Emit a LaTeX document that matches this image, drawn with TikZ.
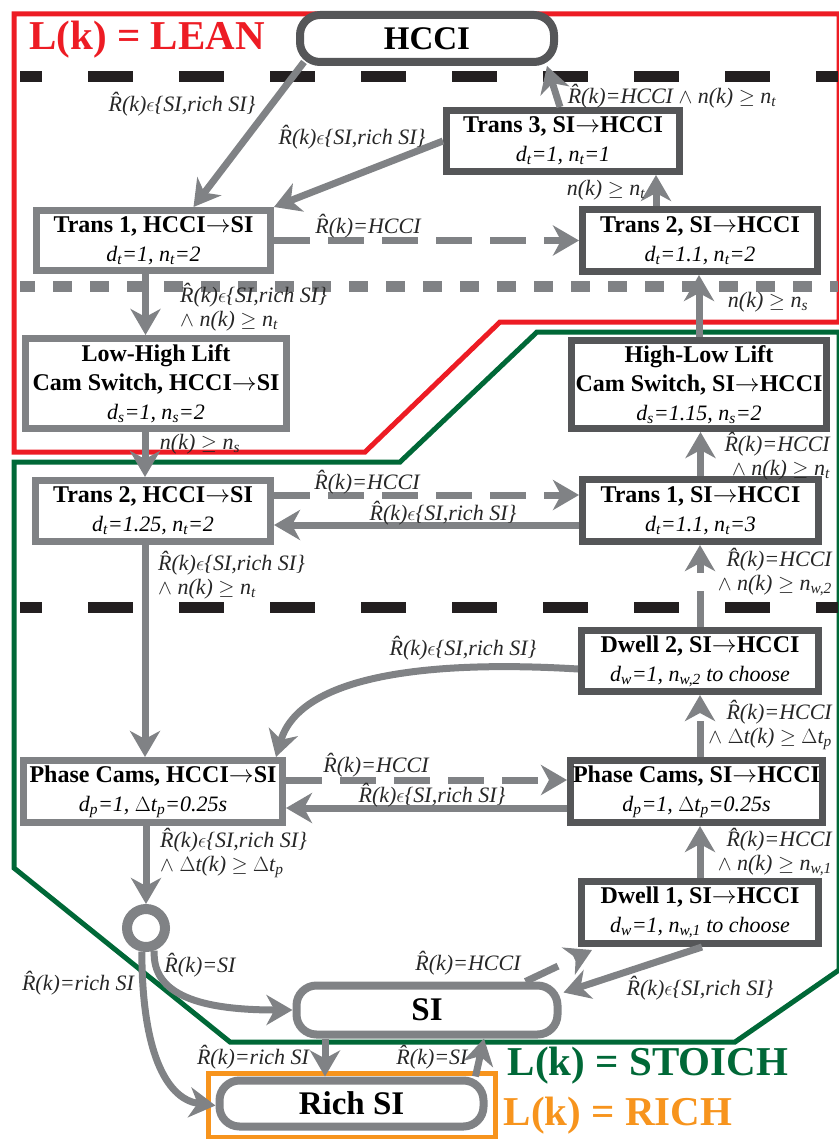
\documentclass[tikz,border=0pt]{standalone}
\usepackage{fontspec}
\setmainfont{Liberation Serif}
\usepackage{amsmath}
\usepackage{amssymb}
\usepackage{tikz}
\usepackage{xcolor}
\usetikzlibrary{arrows.meta,positioning}

\definecolor{leanred}{RGB}{237,28,36}
\definecolor{stoichgreen}{RGB}{0,104,55}
\definecolor{richorange}{RGB}{247,148,29}
\definecolor{lightgrey}{RGB}{128,130,133}
\definecolor{darkgrey}{RGB}{85,86,88}
\definecolor{sepblack}{RGB}{35,31,32}

\newcommand{\Rk}{\^{R}(k)}
\newcommand{\inrich}{$\epsilon$\{SI,rich SI\}}
\newcommand{\nxt}[1]{{\fontsize{22}{29}\selectfont\itshape #1}}

\begin{document}
\begin{tikzpicture}[x=1pt,y=-1pt,
  lbox/.style={draw=lightgrey, line width=7pt, fill=white, align=center, inner sep=1pt, font=\fontsize{24}{29}\selectfont},
  dbox/.style={lbox, draw=darkgrey},
  modebox/.style={draw=lightgrey, line width=8pt, fill=white, rounded corners=20pt, font=\fontsize{33}{36}\selectfont\bfseries},
  conn/.style={draw=lightgrey, line width=7pt, -{Stealth[length=26pt,width=30pt,inset=8pt]}},
  dconn/.style={conn, dash pattern=on 36pt off 18pt},
  lbl/.style={font=\fontsize{22}{24}\selectfont\itshape, inner sep=0pt, text=black!85},
  region/.style={line width=5pt},
  sep/.style={line width=11pt},
  regiontitle/.style={font=\fontsize{41}{44}\selectfont\bfseries, inner sep=0pt}]
\useasboundingbox (0,0) rectangle (838,1139);

\draw[region, leanred] (14,14) -- (839,14) -- (839,322) -- (500,322) -- (365,452) -- (14,452) -- cycle;
\draw[region, stoichgreen] (14,462) -- (400,462) -- (537,332) -- (839,332) -- (839,970) -- (735,1042) -- (230,1042) -- (14,868) -- cycle;
\draw[region, richorange] (208,1073) rectangle (495,1137);

\draw[sep, sepblack, dash pattern=on 45pt off 46pt, dash phase=23pt] (20,77) -- (838,77);
\draw[sep, lightgrey, dash pattern=on 19pt off 18pt, dash phase=4pt] (20,287) -- (838,287);
\draw[sep, sepblack, dash pattern=on 45pt off 46pt, dash phase=23pt] (20,607) -- (838,607);

\node[regiontitle, text=leanred] (leantitle) at (147,40) {L(k) = LEAN};
\node[regiontitle, text=stoichgreen] (stoichtitle) at (648,1066) {L(k) = STOICH};
\node[regiontitle, text=richorange] (richtitle) at (618,1116) {L(k) = RICH};

\node[modebox, draw=darkgrey, minimum width=254pt, minimum height=47pt] (hcci) at (427,38.5) {HCCI};
\node[modebox, minimum width=261pt, minimum height=49pt] (si) at (427,1010) {SI};
\node[modebox, minimum width=264pt, minimum height=46pt] (rich) at (351.5,1103.5) {Rich SI};
\node[circle, draw=lightgrey, line width=10pt, minimum size=38pt, inner sep=0pt, fill=white] (junction) at (146,928) {};

\node[dbox, minimum width=233pt, minimum height=61pt] (t3sh) at (563,141) {\textbf{Trans 3, SI$\rightarrow$HCCI}\\\nxt{d\textsubscript{t}=1, n\textsubscript{t}=1}};
\node[lbox, minimum width=234pt, minimum height=60pt] (t1hs) at (153.5,240.5) {\textbf{Trans 1, HCCI$\rightarrow$SI}\\\nxt{d\textsubscript{t}=1, n\textsubscript{t}=2}};
\node[dbox, minimum width=235pt, minimum height=62pt] (t2sh) at (700,240.5) {\textbf{Trans 2, SI$\rightarrow$HCCI}\\\nxt{d\textsubscript{t}=1.1, n\textsubscript{t}=2}};
\node[lbox, minimum width=261pt, minimum height=90pt] (lh) at (156,383.5) {\textbf{Low-High Lift}\\\textbf{Cam Switch, HCCI$\rightarrow$SI}\\\nxt{d\textsubscript{s}=1, n\textsubscript{s}=2}};
\node[dbox, minimum width=255pt, minimum height=88pt] (hl) at (699,384.5) {\textbf{High-Low Lift}\\\textbf{Cam Switch, SI$\rightarrow$HCCI}\\\nxt{d\textsubscript{s}=1.15, n\textsubscript{s}=2}};
\node[lbox, minimum width=235pt, minimum height=61pt] (t2hs) at (153,511) {\textbf{Trans 2, HCCI$\rightarrow$SI}\\\nxt{d\textsubscript{t}=1.25, n\textsubscript{t}=2}};
\node[dbox, minimum width=236pt, minimum height=62pt] (t1sh) at (700.5,510.5) {\textbf{Trans 1, SI$\rightarrow$HCCI}\\\nxt{d\textsubscript{t}=1.1, n\textsubscript{t}=3}};
\node[dbox, minimum width=237pt, minimum height=61pt] (dw2) at (700,661) {\textbf{Dwell 2, SI$\rightarrow$HCCI}\\\nxt{d\textsubscript{w}=1, n\textsubscript{w,2} to choose}};
\node[lbox, minimum width=259pt, minimum height=62pt] (pchs) at (153,791.5) {\textbf{Phase Cams, HCCI$\rightarrow$SI}\\\nxt{d\textsubscript{p}=1, $\Delta$t\textsubscript{p}=0.25s}};
\node[dbox, minimum width=252pt, minimum height=62pt] (pcsh) at (696.5,791.5) {\textbf{Phase Cams, SI$\rightarrow$HCCI}\\\nxt{d\textsubscript{p}=1, $\Delta$t\textsubscript{p}=0.25s}};
\node[dbox, minimum width=237pt, minimum height=62pt] (dw1) at (700,912.5) {\textbf{Dwell 1, SI$\rightarrow$HCCI}\\\nxt{d\textsubscript{w}=1, n\textsubscript{w,1} to choose}};

\draw[conn] ([xshift=8pt,yshift=4pt]hcci.south west) -- ([xshift=40pt]t1hs.north);
\draw[conn] (t3sh.west) -- (t1hs.north east);
\draw[dconn] (t1hs.east) -- (t2sh.west);
\draw[conn] ([xshift=-44pt]t2sh.north) -- ([xshift=93pt]t3sh.south);
\draw[conn] ([xshift=-3pt]t3sh.north) -- ([xshift=120pt]hcci.south);
\draw[conn] ([xshift=-8pt]t1hs.south) -- ([xshift=-8pt]t1hs.south |- lh.north);
\draw[conn] (hl.north) -- (hl.north |- t2sh.south);
\draw[conn] ([xshift=-11pt]lh.south) -- ([xshift=-11pt]lh.south |- t2hs.north);
\draw[dconn] ([yshift=16pt]t2hs.east) -- ([yshift=16pt]t2hs.east -| t1sh.west);
\draw[conn] ([yshift=-14pt]t2hs.east -| t1sh.west) -- ([yshift=-14pt]t2hs.east);
\draw[conn] (t1sh.north) -- (t1sh.north |- hl.south);
\draw[conn] ([xshift=-8pt]t2hs.south) -- ([xshift=-8pt]t2hs.south |- pchs.north);
\draw[dconn] (dw2.north) -- (dw2.north |- t1sh.south);
\draw[conn] ([yshift=-8pt]dw2.west) .. controls (430,660) and (300,675) .. ([xshift=-10pt]pchs.north east);
\draw[dconn] ([xshift=3.5pt]pcsh.north) -- ([xshift=3.5pt]pcsh.north |- dw2.south);
\draw[dconn] ([yshift=11.5pt]pchs.east) -- ([yshift=11.5pt]pchs.east -| pcsh.west);
\draw[conn] ([yshift=-16.5pt]pchs.east -| pcsh.west) -- ([yshift=-16.5pt]pchs.east);
\draw[dconn] (dw1.north) -- ([xshift=3.5pt]pcsh.south);
\draw[conn] ([xshift=-7pt]pchs.south) -- (junction.north);
\draw[conn] (junction.-70) .. controls (152,995) and (200,1010) .. (si.west);
\draw[conn] (junction.-100) .. controls (142,1060) and (170,1100) .. ([yshift=-2pt]rich.west);
\draw[dconn] ([xshift=-36pt]si.north east) -- ([xshift=14pt,yshift=-3pt]dw1.south west);
\draw[conn] ([xshift=2pt]dw1.south) -- ([xshift=2pt,yshift=-11pt]si.north east);
\draw[conn] ([xshift=-102pt]si.south) -- ([xshift=-102pt]si.south |- rich.north);
\draw[conn] ([xshift=-12pt]rich.north east) -- ([xshift=57pt]si.south);

\node[lbl] (lhccit1) at (182,104) {\Rk\inrich};
\node[lbl] (lt3t1) at (352,137) {\Rk\inrich};
\node[lbl] (lt1t2) at (368,226) {\Rk=HCCI};
\node[lbl] (lt2t3) at (606,190) {n(k) $\geq$ n\textsubscript{t}};
\node[lbl] (lt3hcci) at (672,96) {\Rk=HCCI $\wedge$ n(k) $\geq$ n\textsubscript{t}};
\node[lbl, anchor=west, align=left] (lt1lh) at (180,307) {\Rk\inrich\\$\wedge$ n(k) $\geq$ n\textsubscript{t}};
\node[lbl] (lhlt2) at (768,302) {n(k) $\geq$ n\textsubscript{s}};
\node[lbl] (llht2) at (200,444) {n(k) $\geq$ n\textsubscript{s}};
\node[lbl] (lt2t1) at (367,482) {\Rk=HCCI};
\node[lbl] (lt1t2b) at (443,513) {\Rk\inrich};
\node[lbl, anchor=east, align=right] (lt1hl) at (830,456) {\Rk=HCCI\\$\wedge$ n(k) $\geq$ n\textsubscript{t}};
\node[lbl, anchor=west, align=left] (lt2pc) at (158,575) {\Rk\inrich\\$\wedge$ n(k) $\geq$ n\textsubscript{t}};
\node[lbl, anchor=east, align=right] (ldw2t1) at (832,572) {\Rk=HCCI\\$\wedge$ n(k) $\geq$ n\textsubscript{w,2}};
\node[lbl] (ldw2pc) at (463,648) {\Rk\inrich};
\node[lbl, anchor=east, align=right] (lpcdw2) at (832,725) {\Rk=HCCI\\$\wedge$ $\Delta$t(k) $\geq$ $\Delta$t\textsubscript{p}};
\node[lbl] (lpcpc) at (376,765) {\Rk=HCCI};
\node[lbl] (lpcpcb) at (432,795) {\Rk\inrich};
\node[lbl, anchor=east, align=right] (ldw1pc) at (832,852) {\Rk=HCCI\\$\wedge$ n(k) $\geq$ n\textsubscript{w,1}};
\node[lbl, anchor=west, align=left] (lpcjun) at (160,853) {\Rk\inrich\\$\wedge$ $\Delta$t(k) $\geq$ $\Delta$t\textsubscript{p}};
\node[lbl] (ljunsi) at (200,965) {\Rk=SI};
\node[lbl] (ljunrich) at (78,983) {\Rk=rich SI};
\node[lbl] (lsidw1) at (468,963) {\Rk=HCCI};
\node[lbl] (ldw1si) at (700,988) {\Rk\inrich};
\node[lbl] (lsirich) at (253,1057) {\Rk=rich SI};
\node[lbl] (lrichsi) at (432,1057) {\Rk=SI};
\end{tikzpicture}
\end{document}
